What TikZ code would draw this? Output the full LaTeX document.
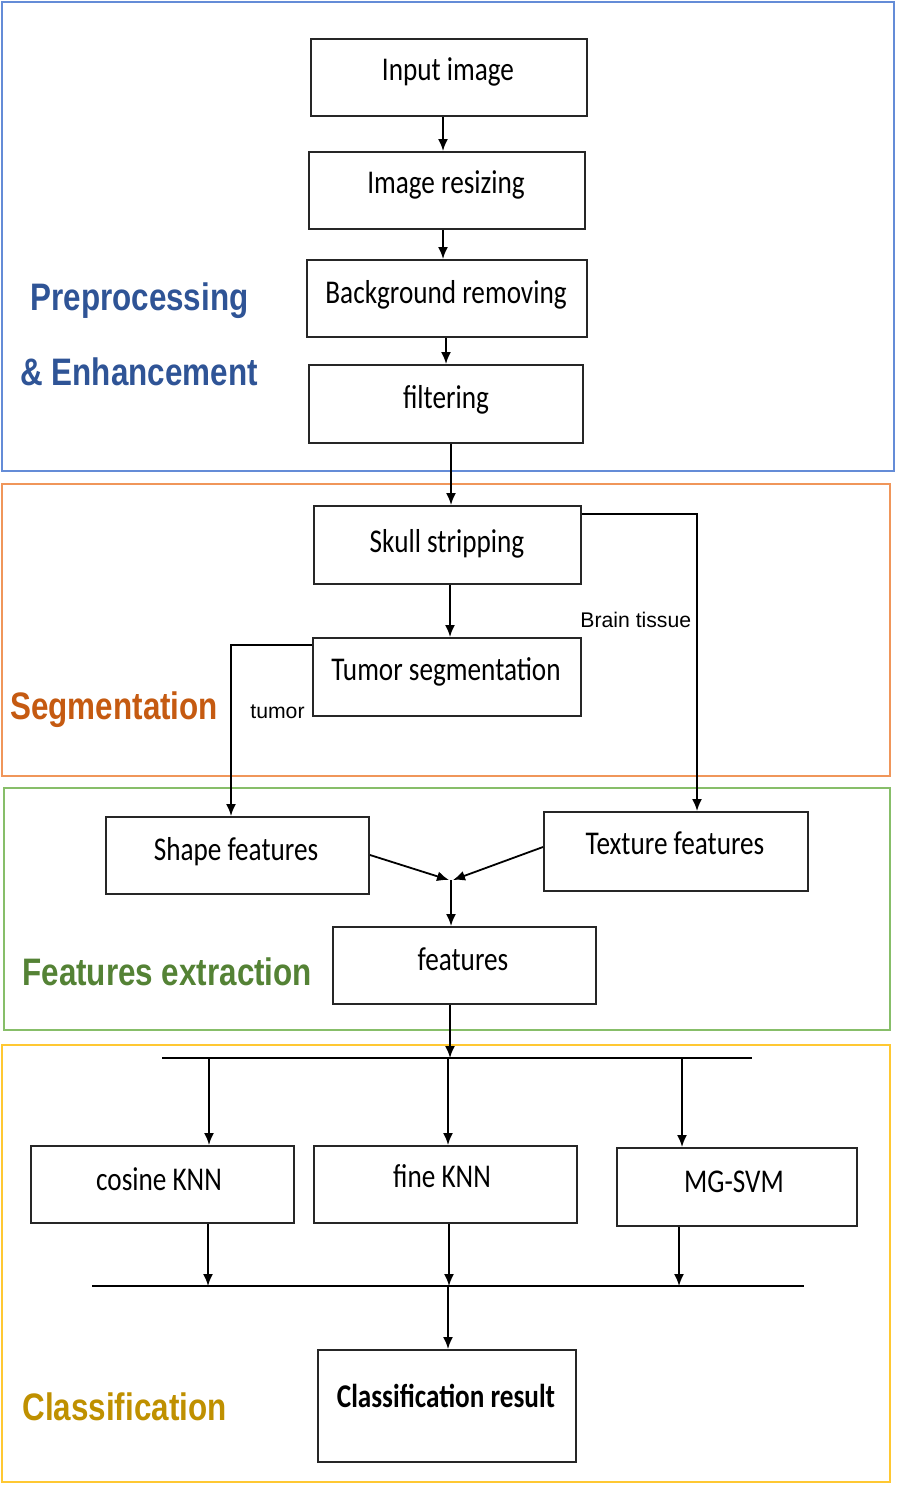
\documentclass[tikz,border=0pt]{standalone}
\usepackage{fontspec}
\setmainfont{Carlito}
\newfontfamily\arialf{Liberation Sans}
\usetikzlibrary{arrows.meta}
\newcommand\vstr[1]{\scalebox{1}[1.22]{#1}}
\definecolor{pblue}{RGB}{100,140,215}
\definecolor{porange}{RGB}{240,150,90}
\definecolor{pgreen}{RGB}{135,190,105}
\definecolor{pyellow}{RGB}{255,200,50}
\definecolor{lblue}{RGB}{47,84,150}
\definecolor{lorange}{RGB}{197,90,17}
\definecolor{lgreen}{RGB}{84,130,53}
\definecolor{lgold}{RGB}{191,144,0}
\tikzset{
  box/.style={draw=black!85, line width=1pt, rectangle, inner sep=0pt},
  btxt/.style={font=\fontsize{13.6}{15}\selectfont, anchor=base, inner sep=0pt},
  panel/.style={line width=1pt, rectangle, inner sep=0pt},
  sect/.style={font=\arialf\bfseries\fontsize{15.7}{18}\selectfont, anchor=base west, inner sep=0pt},
  small/.style={font=\arialf\fontsize{10.6}{12}\selectfont, anchor=base west, inner sep=0pt},
  arr/.style={line width=0.9pt, -{Latex[length=6pt,width=5pt]}},
  ln/.style={line width=0.9pt}
}
\begin{document}
\begin{tikzpicture}[x=0.5pt,y=-0.5pt]
\useasboundingbox (0,0) rectangle (896,1488);
% panels
\draw[panel, draw=pblue] (2,2) rectangle (894,471);
\draw[panel, draw=porange] (2,484) rectangle (890,776);
\draw[panel, draw=pgreen] (4,788) rectangle (890,1030);
\draw[panel, draw=pyellow] (2,1045) rectangle (890,1482);
% section labels
\node[sect, text=lblue] (s1) at (30,310) {\vstr{Preprocessing}};
\node[sect, text=lblue] (s2) at (20,385) {\vstr{\& Enhancement}};
\node[sect, text=lorange] (s3) at (10,719) {\vstr{Segmentation}};
\node[sect, text=lgreen] (s4) at (22,985) {\vstr{Features extraction}};
\node[sect, text=lgold] (s5) at (22,1420) {\vstr{Classification}};
% boxes
\node[box, minimum width=138pt, minimum height=38.5pt] (in) at (449,77.5) {};
\node[btxt] (tin) at (448,80) {\vstr{Input image}};
\node[box, minimum width=138pt, minimum height=38.5pt] (rs) at (447,190.5) {};
\node[btxt] (trs) at (446,193) {\vstr{Image resizing}};
\node[box, minimum width=140pt, minimum height=38.5pt] (bg) at (447,298.5) {};
\node[btxt] (tbg) at (446,303) {\vstr{Background removing}};
\node[box, minimum width=137pt, minimum height=39pt] (fl) at (446,404) {};
\node[btxt] (tfl) at (446,408) {\vstr{filtering}};
\node[box, minimum width=133.5pt, minimum height=39pt] (sk) at (447.5,545) {};
\node[btxt] (tsk) at (447,552) {\vstr{Skull stripping}};
\node[box, minimum width=134pt, minimum height=39pt] (ts) at (447,677) {};
\node[btxt] (tts) at (446,680) {\vstr{Tumor segmentation}};
\node[box, minimum width=131.5pt, minimum height=38.5pt] (sh) at (237.5,855.5) {};
\node[btxt] (tsh) at (236,860) {\vstr{Shape features}};
\node[box, minimum width=132pt, minimum height=39.5pt] (tx) at (676,851.5) {};
\node[btxt] (ttx) at (675,854) {\vstr{Texture features}};
\node[box, minimum width=131.5pt, minimum height=38.5pt] (ft) at (464.5,965.5) {};
\node[btxt] (tft) at (463,970) {\vstr{features}};
\node[box, minimum width=131.5pt, minimum height=38.5pt] (ck) at (162.5,1184.5) {};
\node[btxt] (tck) at (159,1190) {\vstr{cosine KNN}};
\node[box, minimum width=131.5pt, minimum height=38.5pt] (fk) at (445.5,1184.5) {};
\node[btxt] (tfk) at (442,1187) {\vstr{fine KNN}};
\node[box, minimum width=120pt, minimum height=39pt] (mg) at (737,1187) {};
\node[btxt] (tmg) at (734,1192) {\vstr{MG-SVM}};
\node[box, minimum width=129pt, minimum height=56pt] (cr) at (447,1406) {};
\node[btxt, font=\bfseries\fontsize{13.6}{15}\selectfont] (tcr) at (446,1407) {\vstr{Classification result}};
% small labels
\node[small] (lbt) at (580,627) {Brain tissue};
\node[small] (ltu) at (250,718) {tumor};
% vertical chain
\draw[arr] (443,0 |- in.south) -- (443,0 |- rs.north);
\draw[arr] (443,0 |- rs.south) -- (443,0 |- bg.north);
\draw[arr] (446,0 |- bg.south) -- (446,0 |- fl.north);
\draw[arr] (451,0 |- fl.south) -- (451,0 |- sk.north);
\draw[arr] (450,0 |- sk.south) -- (450,0 |- ts.north);
% brain tissue branch
\coordinate (bt1) at (697,514);
\draw[arr] (sk.east |- bt1) -- (bt1) -- (697,0 |- tx.north);
% tumor branch
\coordinate (tu1) at (231,645);
\draw[arr] (ts.west |- tu1) -- (tu1) -- (231,0 |- sh.north);
% merge
\coordinate (j) at (451,880);
\draw[arr] (sh.east |- 0,855) -- ([xshift=-1]j);
\draw[arr] (tx.west |- 0,847) -- ([xshift=1]j);
\draw[arr] (j) -- (451,0 |- ft.north);
% bus 1
\coordinate (b1l) at (162,1058);
\coordinate (b1r) at (752,1058);
\draw[ln] (b1l) -- (b1r);
\draw[arr] (450,0 |- ft.south) -- (450,1058);
\draw[arr] (209,1058) -- (209,0 |- ck.north);
\draw[arr] (448,1058) -- (448,0 |- fk.north);
\draw[arr] (682,1058) -- (682,0 |- mg.north);
% bus 2
\coordinate (b2l) at (92,1286);
\coordinate (b2r) at (804,1286);
\draw[ln] (b2l) -- (b2r);
\draw[arr] (208,0 |- ck.south) -- (208,1286);
\draw[arr] (449,0 |- fk.south) -- (449,1286);
\draw[arr] (679,0 |- mg.south) -- (679,1286);
\draw[arr] (448,1286) -- (448,0 |- cr.north);
\end{tikzpicture}
\end{document}
